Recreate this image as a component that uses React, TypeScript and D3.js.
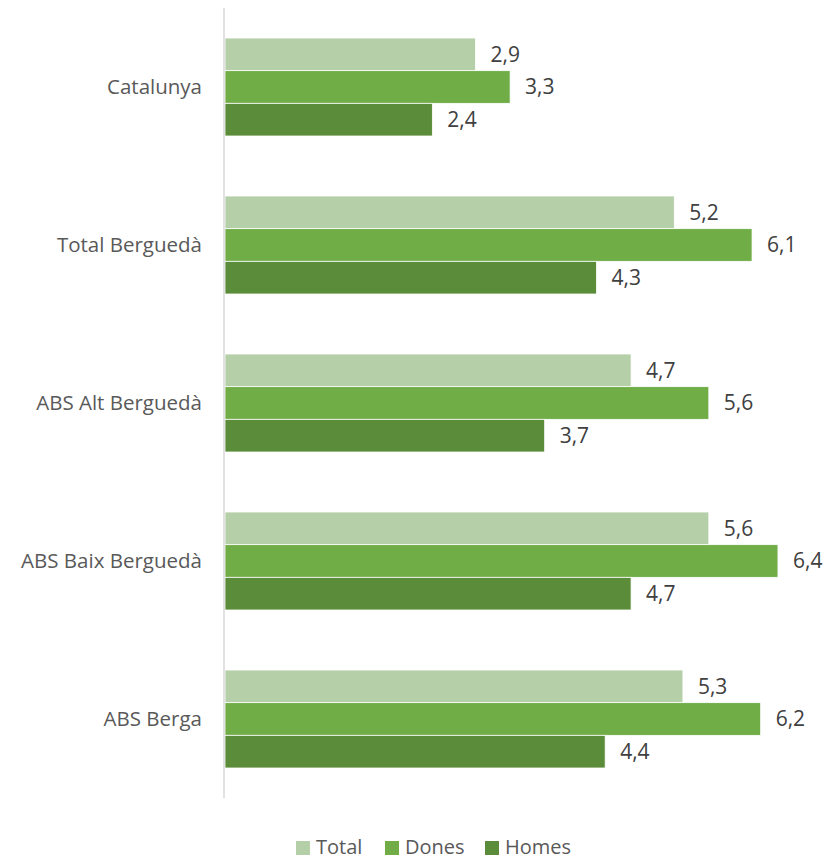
import React from "react";
import * as d3 from "d3";

const categories = ["Catalunya", "Total Berguedà", "ABS Alt Berguedà", "ABS Baix Berguedà", "ABS Berga"];
const seriesNames = ["Total", "Dones", "Homes"];
const totalValues = [2.9, 5.2, 4.7, 5.6, 5.3];
const donesValues = [3.3, 6.1, 5.6, 6.4, 6.2];
const homesValues = [2.4, 4.3, 3.7, 4.7, 4.4];
const colors = ["#b5cfa8", "#70ad47", "#5a8c39"];

const W = 831;
const H = 860;
const FONT = "'Open Sans', sans-serif";

export default function App() {
  const values = [totalValues, donesValues, homesValues];
  const x = d3.scaleLinear().domain([0, 7]).range([225, 225 + 7 * 86.4]);
  const y = d3.scaleBand<string>().domain(categories).range([8, 798]).paddingInner(0).paddingOuter(0);
  const inner = d3.scaleBand<string>().domain(seriesNames).range([30, y.bandwidth() - 30]);
  const fmt = (v: number) => v.toFixed(1).replace(".", ",");
  const legendX = [296, 385, 485];

  return (
    <svg width={W} height={H} style={{ position: "absolute", left: 0, top: 0 }}>
      <rect x={0} y={0} width={W} height={H} fill="#fff" />
      {categories.map((c, ci) => (
        <g key={c}>
          <text x={202} y={(y(c) ?? 0) + y.bandwidth() / 2} dy="0.35em" textAnchor="end" fontFamily={FONT} fontSize={20.5} fill="#595959">
            {c}
          </text>
          {seriesNames.map((s, si) => {
            const v = values[si][ci];
            const by = (y(c) ?? 0) + (inner(s) ?? 0);
            return (
              <g key={s}>
                <rect x={x(0)} y={by} width={x(v) - x(0)} height={inner.bandwidth()} fill={colors[si]} stroke="#fff" strokeWidth={0.8} />
                <text x={x(v) + 15} y={by + inner.bandwidth() / 2} dy="0.35em" fontFamily={FONT} fontSize={21} fill="#404040">
                  {fmt(v)}
                </text>
              </g>
            );
          })}
        </g>
      ))}
      <line x1={224} x2={224} y1={8} y2={798} stroke="#d9d9d9" strokeWidth={1.5} />
      {seriesNames.map((s, si) => (
        <g key={s}>
          <rect x={legendX[si]} y={841} width={14} height={14} fill={colors[si]} />
          <text x={legendX[si] + 20} y={854} fontFamily={FONT} fontSize={20} fill="#595959">
            {s}
          </text>
        </g>
      ))}
    </svg>
  );
}
